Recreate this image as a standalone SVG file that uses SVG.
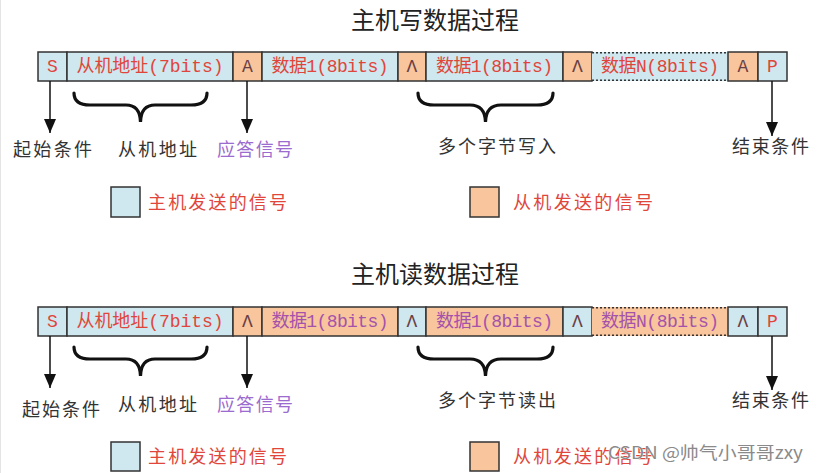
<svg xmlns="http://www.w3.org/2000/svg" width="820" height="473" viewBox="0 0 820 473">
<defs>
<style>
.bg{fill:#ffffff}
.title{font-family:"Noto Sans CJK SC","Noto Sans",sans-serif;font-size:24px;fill:#222;text-anchor:middle}
.cell{stroke:#333;stroke-width:1.5}
.m{fill:#cfe7ee}
.s{fill:#f8c59d}
.ct{font-family:"Liberation Mono","Noto Sans CJK SC",monospace;font-size:18px;text-anchor:middle;dominant-baseline:central}
.red{fill:#e0453b}
.pur{fill:#a452ab}
.ak{fill:#6a4045}
.lbl{font-family:"Noto Sans CJK SC",sans-serif;font-size:18px;fill:#333;text-anchor:middle;dominant-baseline:central}
.ack{fill:#9b6bd0}
.leg{font-family:"Noto Sans CJK SC",sans-serif;font-size:18px;fill:#e0463c;dominant-baseline:central}
.conn{stroke:#111;stroke-width:1.5;fill:none}
.brace{stroke:#111;stroke-width:3.2;fill:none;stroke-linecap:round}
.dot{stroke:#333;stroke-width:1.5;stroke-dasharray:2 2}
.wm{font-family:"Noto Sans CJK SC",sans-serif;font-size:17px;fill:#8a8a8a;stroke:#fff;stroke-width:0.6;paint-order:stroke}
</style>
<marker id="ah" viewBox="0 0 14 12" refX="14" refY="6" markerWidth="14" markerHeight="12" markerUnits="userSpaceOnUse" orient="auto">
<path d="M0,0 L14,6 L0,12 Z" fill="#111"/>
</marker>
</defs>
<rect class="bg" x="0" y="0" width="820" height="473"/>
<line x1="0.5" y1="0" x2="0.5" y2="473" stroke="#e4e4e4" stroke-width="1"/>

<text class="title" x="435" y="29">主机写数据过程</text>
<text class="title" x="435" y="283">主机读数据过程</text>

<g id="write-frame">
<g id="w-s"><rect class="cell m" x="38" y="52" width="29" height="29"/><text class="ct red" x="52.5" y="66.5">S</text></g>
<g id="w-addr"><rect class="cell m" x="67" y="52" width="166" height="29"/><text class="ct red" x="150" y="66.5" textLength="147" lengthAdjust="spacing">从机地址(7bits)</text></g>
<g id="w-a1"><rect class="cell s" x="233" y="52" width="29" height="29"/><text class="ct ak" x="247.5" y="66.5">A</text></g>
<g id="w-d1"><rect class="cell m" x="262" y="52" width="136" height="29"/><text class="ct red" x="330" y="66.5" textLength="117" lengthAdjust="spacing">数据1(8bits)</text></g>
<g id="w-a2"><rect class="cell s" x="398" y="52" width="28" height="29"/><text class="ct ak" x="412" y="66.5">Λ</text></g>
<g id="w-d2"><rect class="cell m" x="426" y="52" width="137" height="29"/><text class="ct red" x="494.5" y="66.5" textLength="117" lengthAdjust="spacing">数据1(8bits)</text></g>
<g id="w-a3"><rect class="cell s" x="563" y="52" width="29" height="29"/><text class="ct ak" x="577.5" y="66.5">Λ</text></g>
<g id="w-dn"><rect class="m" x="592" y="52" width="136" height="29"/><line class="dot" x1="592" y1="52.75" x2="728" y2="52.75"/><line class="dot" x1="592" y1="80.25" x2="728" y2="80.25"/><text class="ct red" x="660" y="66.5" textLength="118" lengthAdjust="spacing">数据N(8bits)</text></g>
<g id="w-a4"><rect class="cell s" x="728" y="52" width="30" height="29"/><text class="ct ak" x="743" y="66.5">A</text></g>
<g id="w-p"><rect class="cell m" x="758" y="52" width="29" height="29"/><text class="ct red" x="772.5" y="66.5">P</text></g>
</g>

<g id="read-frame">
<g id="r-s"><rect class="cell m" x="38" y="307" width="29" height="29"/><text class="ct red" x="52.5" y="321.5">S</text></g>
<g id="r-addr"><rect class="cell m" x="67" y="307" width="166" height="29"/><text class="ct red" x="150" y="321.5" textLength="147" lengthAdjust="spacing">从机地址(7bits)</text></g>
<g id="r-a1"><rect class="cell s" x="233" y="307" width="29" height="29"/><text class="ct ak" x="247.5" y="321.5">Λ</text></g>
<g id="r-d1"><rect class="cell s" x="262" y="307" width="136" height="29"/><text class="ct pur" x="330" y="321.5" textLength="117" lengthAdjust="spacing">数据1(8bits)</text></g>
<g id="r-a2"><rect class="cell m" x="398" y="307" width="28" height="29"/><text class="ct ak" x="412" y="321.5">Λ</text></g>
<g id="r-d2"><rect class="cell s" x="426" y="307" width="137" height="29"/><text class="ct pur" x="494.5" y="321.5" textLength="117" lengthAdjust="spacing">数据1(8bits)</text></g>
<g id="r-a3"><rect class="cell m" x="563" y="307" width="29" height="29"/><text class="ct ak" x="577.5" y="321.5">Λ</text></g>
<g id="r-dn"><rect class="s" x="592" y="307" width="136" height="29"/><line class="dot" x1="592" y1="307.75" x2="728" y2="307.75"/><line class="dot" x1="592" y1="335.25" x2="728" y2="335.25"/><text class="ct pur" x="660" y="321.5" textLength="118" lengthAdjust="spacing">数据N(8bits)</text></g>
<g id="r-a4"><rect class="cell m" x="728" y="307" width="30" height="29"/><text class="ct ak" x="743" y="321.5">Λ</text></g>
<g id="r-p"><rect class="cell m" x="758" y="307" width="29" height="29"/><text class="ct red" x="772.5" y="321.5">P</text></g>
</g>

<g id="connectors">
<line class="conn" x1="50" y1="81" x2="50" y2="133" marker-end="url(#ah)"/>
<line class="conn" x1="247" y1="81" x2="247" y2="133" marker-end="url(#ah)"/>
<line class="conn" x1="772" y1="81" x2="772" y2="136" marker-end="url(#ah)"/>
<path class="brace" d="M74,93 Q74,105 90,105 L126,105 Q140,105 140.5,122 Q141,105 155,105 L191,105 Q207,105 207,93"/>
<path class="brace" d="M418,93 Q418,105 434,105 L470,105 Q485,105 485.5,122 Q486,105 501,105 L537,105 Q553,105 553,93"/>
<line class="conn" x1="50" y1="336" x2="50" y2="388" marker-end="url(#ah)"/>
<line class="conn" x1="247" y1="336" x2="247" y2="388" marker-end="url(#ah)"/>
<line class="conn" x1="772" y1="336" x2="772" y2="390" marker-end="url(#ah)"/>
<path class="brace" d="M74,347 Q74,359 90,359 L126,359 Q140,359 140.5,376 Q141,359 155,359 L191,359 Q207,359 207,347"/>
<path class="brace" d="M418,347 Q418,359 434,359 L470,359 Q485,359 485.5,376 Q486,359 501,359 L537,359 Q553,359 553,347"/>
</g>

<g id="labels">
<text class="lbl" x="52.5" y="148" textLength="79" lengthAdjust="spacing">起始条件</text>
<text class="lbl" x="157.5" y="148" textLength="79" lengthAdjust="spacing">从机地址</text>
<text class="lbl ack" x="255" y="148" textLength="76" lengthAdjust="spacing">应答信号</text>
<text class="lbl" x="497" y="145" textLength="118" lengthAdjust="spacing">多个字节写入</text>
<text class="lbl" x="770.5" y="145" textLength="77" lengthAdjust="spacing">结束条件</text>
<text class="lbl" x="61" y="408" textLength="78" lengthAdjust="spacing">起始条件</text>
<text class="lbl" x="157.5" y="403" textLength="79" lengthAdjust="spacing">从机地址</text>
<text class="lbl ack" x="255" y="403" textLength="76" lengthAdjust="spacing">应答信号</text>
<text class="lbl" x="497" y="399" textLength="118" lengthAdjust="spacing">多个字节读出</text>
<text class="lbl" x="770.5" y="399" textLength="77" lengthAdjust="spacing">结束条件</text>
</g>

<g id="legend-write">
<rect class="cell m" x="111" y="187" width="29" height="30"/>
<text class="leg" x="148" y="201" textLength="139" lengthAdjust="spacing">主机发送的信号</text>
<rect class="cell s" x="470" y="187" width="29" height="30"/>
<text class="leg" x="513" y="201" textLength="140" lengthAdjust="spacing">从机发送的信号</text>
</g>
<g id="legend-read">
<rect class="cell m" x="111" y="442" width="29" height="29"/>
<text class="leg" x="148" y="455" textLength="139" lengthAdjust="spacing">主机发送的信号</text>
<rect class="cell s" x="470" y="442" width="29" height="29"/>
<text class="leg" x="513" y="455" textLength="140" lengthAdjust="spacing">从机发送的信号</text>
</g>
<text class="wm" x="608" y="459" textLength="195" lengthAdjust="spacingAndGlyphs">CSDN @帅气小哥哥zxy</text>
</svg>
